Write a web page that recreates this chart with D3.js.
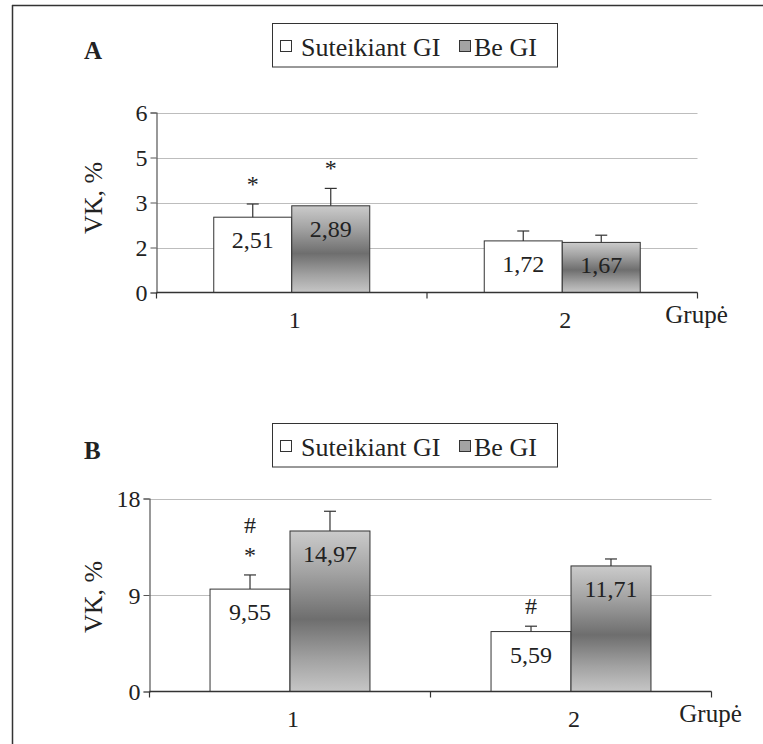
<!DOCTYPE html>
<html>
<head>
<meta charset="utf-8">
<script src="https://cdn.jsdelivr.net/npm/d3@7"></script>
<style>
  html, body { margin: 0; padding: 0; background: #fff; }
  svg { display: block; }
</style>
</head>
<body>
<svg id="chart" width="763" height="744" font-family="Liberation Serif"></svg>
<script>
// ---- data ----
const groups = ["1", "2"];
const seriesNames = ["Suteikiant GI", "Be GI"];
const xAxisTitle = "Grupė";
const yAxisTitle = "VK, %";

// Panel A
const panelA = "A";
const valuesA_with = [2.51, 1.72];
const valuesA_without = [2.89, 1.67];
const errA_with = [0.44, 0.33];
const errA_without = [0.58, 0.24];
const marksA_with = [["*"], []];
const marksA_without = [["*"], []];
const yTicksA = [0, 1.5, 3, 4.5, 6];
const yTickLabelsA = ["0", "2", "3", "5", "6"];
const yMaxA = 6;

// Panel B
const panelB = "B";
const valuesB_with = [9.55, 5.59];
const valuesB_without = [14.97, 11.71];
const errB_with = [1.32, 0.50];
const errB_without = [1.84, 0.65];
const marksB_with = [["*", "#"], ["#"]];
const marksB_without = [[], []];
const yTicksB = [0, 9, 18];
const yTickLabelsB = ["0", "9", "18"];
const yMaxB = 18;

// ---- drawing ----
const FONT = "Liberation Serif";
const svg = d3.select("#chart");
const defs = svg.append("defs");
const grad = defs.append("linearGradient").attr("id", "grayGrad")
  .attr("x1", 0).attr("y1", 0).attr("x2", 0).attr("y2", 1);
grad.append("stop").attr("offset", "0%").attr("stop-color", "#cbcbcb");
grad.append("stop").attr("offset", "25%").attr("stop-color", "#a4a4a4");
grad.append("stop").attr("offset", "55%").attr("stop-color", "#6e6e6e");
grad.append("stop").attr("offset", "80%").attr("stop-color", "#a2a2a2");
grad.append("stop").attr("offset", "100%").attr("stop-color", "#c6c6c6");

// frame
svg.append("line").attr("x1", 12.5).attr("y1", 5).attr("x2", 12.5).attr("y2", 744)
  .attr("stroke", "#333").attr("stroke-width", 1.5);
svg.append("line").attr("x1", 12).attr("y1", 5.5).attr("x2", 763).attr("y2", 5.5)
  .attr("stroke", "#333").attr("stroke-width", 1.5);

const fmt = v => d3.format(".2f")(v).replace(".", ",");

function txt(sel, size) {
  return sel.append("text").attr("font-family", FONT).attr("font-size", size).attr("fill", "#222");
}

function drawPanel(cfg, d) {
  const g = svg.append("g");
  // panel letter
  txt(g, 25).attr("x", 84).attr("y", cfg.legendTop + 35)
    .attr("font-weight", "bold").text(d.letter);

  // legend
  const lx = 272.5, lw = 285, lh = 43.5, ly = cfg.legendTop;
  g.append("rect").attr("x", lx).attr("y", ly).attr("width", lw).attr("height", lh)
    .attr("fill", "#fff").attr("stroke", "#333").attr("stroke-width", 1);
  const legendItems = [
    { name: seriesNames[0], sx: 280.5, tx: 301, fill: "#fff" },
    { name: seriesNames[1], sx: 459.5, tx: 474, fill: "#a3a3a3" }
  ];
  legendItems.forEach(it => {
    g.append("rect").attr("x", it.sx).attr("y", ly + 17).attr("width", 11).attr("height", 11)
      .attr("fill", it.fill).attr("stroke", "#333").attr("stroke-width", 1);
    txt(g, 26).attr("x", it.tx).attr("y", ly + 32).text(it.name);
  });

  const y = d3.scaleLinear().domain([0, d.yMax]).range([cfg.y0, cfg.yTop]);
  const x0 = d3.scaleBand().domain(groups).range([cfg.xL, cfg.xR]).paddingInner(0).paddingOuter(0);
  const x1 = d3.scaleBand().domain([0, 1]).range([0, x0.bandwidth()]).paddingInner(0).paddingOuter(cfg.pad);

  // gridlines
  g.selectAll(".grid").data(d.ticks.filter(t => t > 0)).enter().append("line")
    .attr("x1", cfg.xL).attr("x2", cfg.xR)
    .attr("y1", t => Math.round(y(t)) + 0.5).attr("y2", t => Math.round(y(t)) + 0.5)
    .attr("stroke", "#bdbdbd").attr("stroke-width", 1);

  // y axis
  const yAxis = d3.axisLeft(y).tickValues(d.ticks)
    .tickFormat((t, i) => d.tickLabels[i]).tickSize(6).tickPadding(3);
  const ya = g.append("g").attr("transform", `translate(${cfg.xL},0)`).call(yAxis)
    .attr("font-family", FONT).attr("font-size", 24);
  ya.select(".domain").attr("stroke", "#555").attr("stroke-width", 1.2);
  ya.selectAll(".tick line").attr("stroke", "#555");
  ya.selectAll(".tick text").attr("font-size", 24).attr("font-family", FONT)
    .attr("fill", "#222").attr("dy", "0.34em");

  // y title
  txt(g, 26).attr("transform", `translate(${102},${cfg.yTitleY}) rotate(-90)`)
    .attr("text-anchor", "middle").text(yAxisTitle);

  // bars
  const series = [
    { vals: d.with, errs: d.errWith, marks: d.marksWith, fill: "#fff" },
    { vals: d.without, errs: d.errWithout, marks: d.marksWithout, fill: "url(#grayGrad)" }
  ];
  series.forEach((s, si) => {
    groups.forEach((grp, gi) => {
      const v = s.vals[gi];
      const bx = x0(grp) + x1(si);
      const bw = x1.bandwidth();
      const cx = bx + bw / 2;
      g.append("rect").attr("x", bx).attr("y", y(v)).attr("width", bw).attr("height", y(0) - y(v))
        .attr("fill", s.fill).attr("stroke", "#333").attr("stroke-width", 1);
      const et = y(v + s.errs[gi]);
      g.append("line").attr("x1", cx).attr("x2", cx).attr("y1", y(v)).attr("y2", et)
        .attr("stroke", "#333").attr("stroke-width", 1.2);
      g.append("line").attr("x1", cx - 6).attr("x2", cx + 6).attr("y1", et).attr("y2", et)
        .attr("stroke", "#333").attr("stroke-width", 1.2);
      txt(g, 24).attr("x", cx).attr("y", y(v) + 31).attr("text-anchor", "middle").text(fmt(v));
      s.marks[gi].forEach((m, mi) => {
        txt(g, 24).attr("x", cx).attr("y", et - 12 - mi * 30).attr("text-anchor", "middle").text(m);
      });
    });
  });

  // x axis
  g.append("line").attr("x1", cfg.xL).attr("x2", cfg.xR).attr("y1", cfg.y0).attr("y2", cfg.y0)
    .attr("stroke", "#333").attr("stroke-width", 1.5);
  const tickXs = [cfg.xL, ...groups.slice(1).map(grp => x0(grp)), cfg.xR];
  g.selectAll(".xt").data(tickXs).enter().append("line")
    .attr("x1", t => t).attr("x2", t => t).attr("y1", cfg.y0).attr("y2", cfg.y0 + 6)
    .attr("stroke", "#333").attr("stroke-width", 1.2);
  groups.forEach(grp => {
    txt(g, 24).attr("x", x0(grp) + x0.bandwidth() / 2 + 3).attr("y", cfg.y0 + 35)
      .attr("text-anchor", "middle").text(grp);
  });
  txt(g, 25).attr("x", cfg.xR - 1).attr("y", cfg.y0 + 30).attr("text-anchor", "middle").text(xAxisTitle);
}

drawPanel(
  { legendTop: 23.5, xL: 156.5, xR: 697.5, y0: 292.5, yTop: 112.5, pad: 0.734, yTitleY: 198 },
  { letter: panelA, yMax: yMaxA, ticks: yTicksA, tickLabels: yTickLabelsA,
    with: valuesA_with, without: valuesA_without, errWith: errA_with, errWithout: errA_without,
    marksWith: marksA_with, marksWithout: marksA_without }
);
drawPanel(
  { legendTop: 423.5, xL: 149.5, xR: 711.5, y0: 691.5, yTop: 498.5, pad: 0.757, yTitleY: 597 },
  { letter: panelB, yMax: yMaxB, ticks: yTicksB, tickLabels: yTickLabelsB,
    with: valuesB_with, without: valuesB_without, errWith: errB_with, errWithout: errB_without,
    marksWith: marksB_with, marksWithout: marksB_without }
);
</script>
</body>
</html>
